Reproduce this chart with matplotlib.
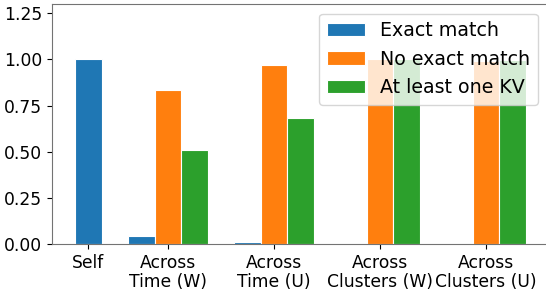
import numpy as np
import matplotlib
matplotlib.use("Agg")
import matplotlib.pyplot as plt

# Data
categories = ["Self", "Across\nTime (W)", "Across\nTime (U)",
              "Across\nClusters (W)", "Across\nClusters (U)"]
exact_match = [1.0, 0.041, 0.012, 0.0, 0.0]
no_exact_match = [0.0, 0.835, 0.971, 1.0, 0.99]
at_least_one_kv = [0.0, 0.51, 0.683, 1.0, 0.995]

width = 0.25
# "Self" only has the exact-match bar, centred on its tick
ticks = np.array([0.25, 1, 2, 3, 4])

fig = plt.figure(figsize=(5.46, 2.94), dpi=100)
ax = fig.add_axes([0.095, 0.17, 0.907, 0.816])

blue_x = np.concatenate([[ticks[0]], ticks[1:] - width])
ax.bar(blue_x, exact_match, width, color="#1f77b4", edgecolor="white",
       linewidth=0.8, label="Exact match")
ax.bar(ticks[1:], no_exact_match[1:], width, color="#ff7f0e",
       edgecolor="white", linewidth=0.8, label="No exact match")
ax.bar(ticks[1:] + width, at_least_one_kv[1:], width, color="#2ca02c",
       edgecolor="white", linewidth=0.8, label="At least one KV")

ax.set_xticks(ticks)
ax.set_xticklabels(categories, fontsize=12.3, linespacing=1.1)
ax.set_yticks([0, 0.25, 0.5, 0.75, 1.0, 1.25])
ax.set_yticklabels(["0.00", "0.25", "0.50", "0.75", "1.00", "1.25"], fontsize=12.3)
ax.set_ylim(0, 1.3)
ax.set_xlim(-0.094, 4.575)
for s in ax.spines.values():
    s.set_color("0.45")

ax.legend(loc="upper right", fontsize=13.7)

fig.savefig("out.png", dpi=100)
